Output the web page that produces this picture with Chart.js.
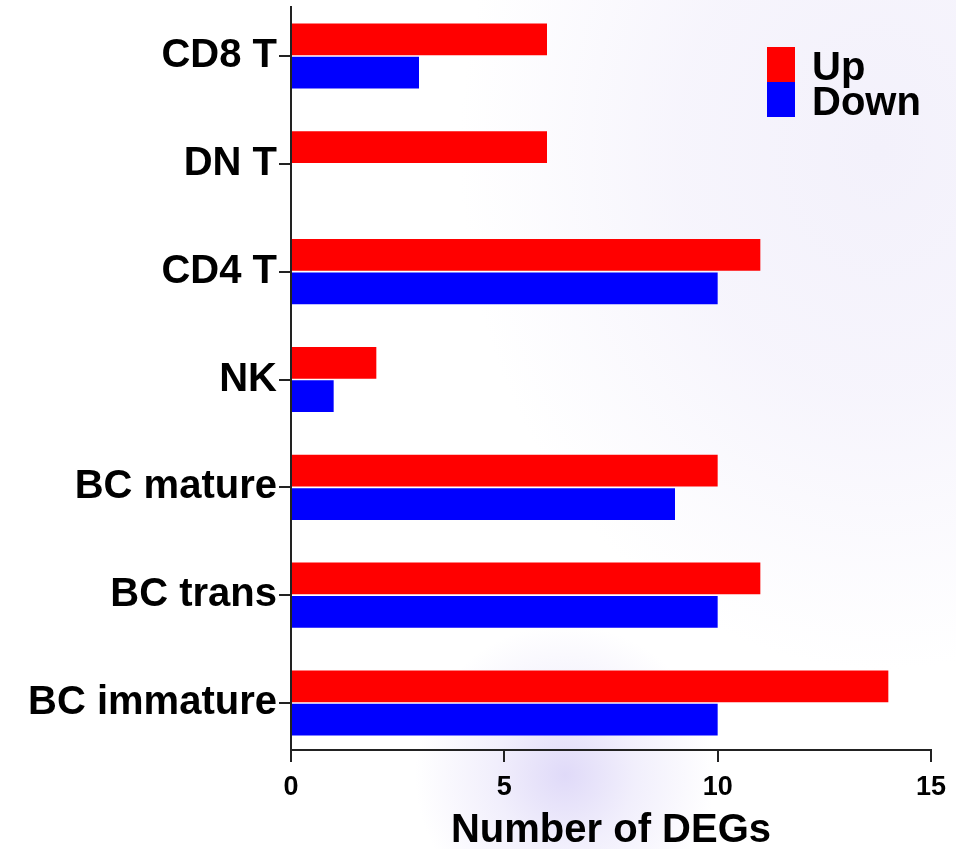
<!DOCTYPE html>
<html>
<head>
<meta charset="utf-8">
<script src="https://cdn.jsdelivr.net/npm/chart.js@4/dist/chart.umd.min.js"></script>
<style>
  html, body { margin: 0; padding: 0; }
  body {
    width: 956px; height: 849px; overflow: hidden;
    background:
      radial-gradient(circle at 565px 775px, rgba(222,216,248,0.95) 0px, rgba(232,228,250,0.6) 70px, rgba(255,255,255,0) 150px),
      radial-gradient(ellipse 420px 520px at 880px 150px, rgba(243,241,251,1) 0px, rgba(245,243,252,0.85) 200px, rgba(255,255,255,0) 420px),
      #ffffff;
  }
  #wrap { position: relative; width: 956px; height: 849px; }
</style>
</head>
<body>
<div id="wrap"><canvas id="c" width="956" height="849"></canvas></div>
<script>
const categories = ["CD8 T", "DN T", "CD4 T", "NK", "BC mature", "BC trans", "BC immature"];
const upValues = [6, 6, 11, 2, 10, 11, 14];
const downValues = [3, 0, 10, 1, 9, 10, 10];
const seriesNames = ["Up", "Down"];
const seriesColors = ["#ff0000", "#0000ff"];
const xTicks = [0, 5, 10, 15];

const FONT = "'Liberation Sans', Arial, Helvetica, sans-serif";
const AXIS = "#222222";

const legendPlugin = {
  id: 'stackedLegend',
  afterDraw(chart) {
    const ctx = chart.ctx;
    const x0 = 767, y0 = 47, bw = 28, bh = 35;
    ctx.save();
    ctx.font = "bold 40px " + FONT;
    ctx.textBaseline = "alphabetic";
    ctx.textAlign = "left";
    chart.data.datasets.forEach((ds, i) => {
      ctx.fillStyle = ds.backgroundColor;
      ctx.fillRect(x0, y0 + i * bh, bw, bh);
      ctx.fillStyle = "#000";
      ctx.fillText(ds.label, 812, y0 + i * bh + 33);
    });
    ctx.restore();
  }
};

new Chart(document.getElementById('c'), {
  type: 'bar',
  data: {
    labels: categories,
    datasets: [
      { label: seriesNames[0], data: upValues, backgroundColor: seriesColors[0], borderWidth: 0 },
      { label: seriesNames[1], data: downValues, backgroundColor: seriesColors[1], borderWidth: 0 }
    ]
  },
  options: {
    indexAxis: 'y',
    responsive: false,
    animation: false,
    events: [],
    layout: { padding: { top: 7, right: 25, bottom: 0, left: 0 } },
    datasets: { bar: { categoryPercentage: 0.62, barPercentage: 0.95 } },
    plugins: { legend: { display: false }, tooltip: { enabled: false } },
    scales: {
      y: {
        type: 'category',
        offset: true,
        afterFit(s) { s.width = 291; s.paddingTop = 0; s.paddingBottom = 0; },
        afterBuildTicks(s) { s._startValue = -0.4544; s._valueRange = 6.89; },
        grid: { drawOnChartArea: false, offset: false, drawTicks: true, tickLength: 12, color: AXIS, lineWidth: 2 },
        border: { display: true, color: AXIS, width: 2 },
        ticks: { color: '#000', padding: 2, font: { family: FONT, size: 40, weight: 'bold' } }
      },
      x: {
        type: 'linear',
        min: 0, max: 15,
        afterFit(s) { s.height = 99; s.paddingLeft = 0; s.paddingRight = 0; },
        afterBuildTicks(s) { s.ticks = xTicks.map(v => ({ value: v })); },
        grid: { drawOnChartArea: false, drawTicks: true, tickLength: 12, color: AXIS, lineWidth: 2 },
        border: { display: true, color: AXIS, width: 2 },
        ticks: { color: '#000', padding: 9, maxRotation: 0, font: { family: FONT, size: 27, weight: 'bold' } },
        title: { display: true, text: 'Number of DEGs', color: '#000', padding: { top: 0, bottom: 0 }, font: { family: FONT, size: 40, weight: 'bold', lineHeight: 0.9 } }
      }
    }
  },
  plugins: [legendPlugin]
});
</script>
</body>
</html>
